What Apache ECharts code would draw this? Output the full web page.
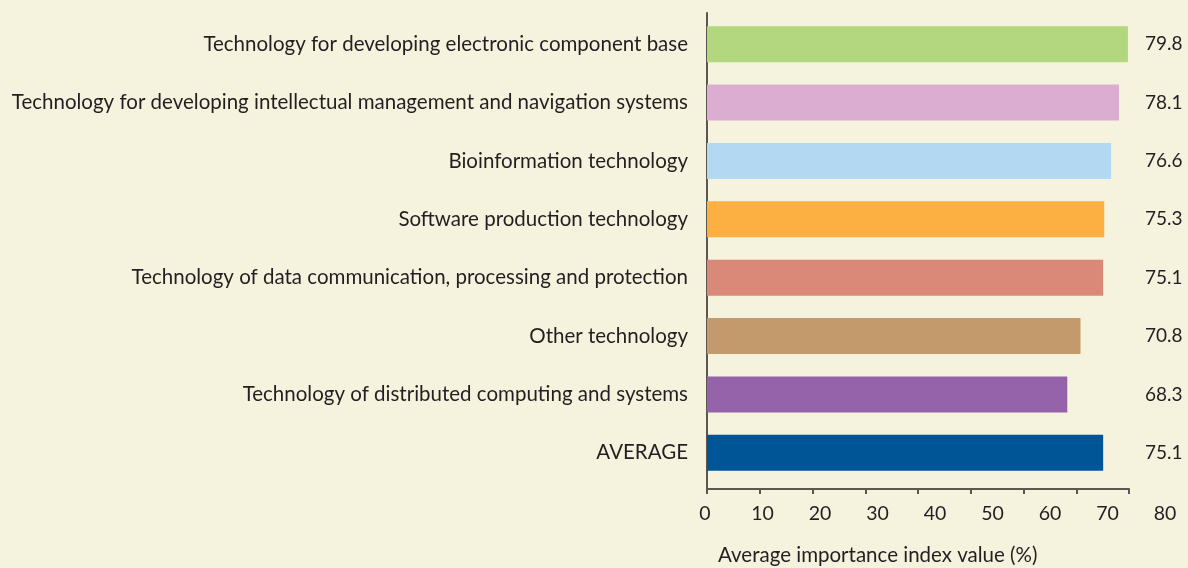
<!DOCTYPE html>
<html>
<head>
<meta charset="utf-8">
<script src="https://cdn.jsdelivr.net/npm/echarts@6/dist/echarts.min.js"></script>
<style>
  html, body { margin: 0; padding: 0; background: #f5f2de; }
  #myChart { width: 1188px; height: 568px; }
</style>
</head>
<body>
<div id="myChart"></div>
<script>
// data, top to bottom as in the picture
var categories = [
  'Technology for developing electronic component base',
  'Technology for developing intellectual management and navigation systems',
  'Bioinformation technology',
  'Software production technology',
  'Technology of data communication, processing and protection',
  'Other technology',
  'Technology of distributed computing and systems',
  'AVERAGE'
];
var values = [79.8, 78.1, 76.6, 75.3, 75.1, 70.8, 68.3, 75.1];
var barColors = ['#b3d77e', '#dbadd1', '#b2d9f1', '#fcb042', '#da8878', '#c39a6b', '#9563a9', '#005596'];
var axisName = 'Average importance index value (%)';

var font = 'Lato';
var textColor = '#231f20';
var lineColor = '#5b5650';

var myChart = echarts.init(document.getElementById('myChart'));
myChart.setOption({
  backgroundColor: '#f5f2de',
  animation: false,
  title: {
    text: axisName,
    left: 713,
    top: 540,
    textStyle: { fontFamily: font, fontSize: 20.5, fontWeight: 'normal', color: textColor }
  },
  grid: [
    // bars
    { left: 707, width: 422, top: 15, height: 467 },
    // axis frame
    { left: 707, width: 422, top: 13, height: 476 },
    // tick labels (spread a bit wider than the ticks, like the original)
    { left: 705, width: 460, top: 13, height: 476 }
  ],
  xAxis: [
    { gridIndex: 0, type: 'value', min: 0, max: 80, show: false },
    {
      gridIndex: 1, type: 'value', min: 0, max: 80, interval: 10,
      axisLine: { show: true, lineStyle: { color: lineColor, width: 2 } },
      axisTick: { show: true, length: 5, lineStyle: { color: lineColor, width: 2 } },
      axisLabel: { show: false },
      splitLine: { show: false }
    },
    {
      gridIndex: 2, type: 'value', min: 0, max: 80, interval: 10,
      axisLine: { show: false },
      axisTick: { show: false },
      axisLabel: { show: true, margin: 15, fontFamily: font, fontSize: 19.5, color: textColor },
      splitLine: { show: false }
    }
  ],
  yAxis: [
    {
      gridIndex: 0, type: 'category', data: categories, inverse: true,
      axisLine: { show: false },
      axisTick: { show: false },
      axisLabel: { margin: 19, fontFamily: font, fontSize: 20.5, color: textColor }
    },
    {
      gridIndex: 0, type: 'category', position: 'right', inverse: true,
      data: values.map(function (v) { return v.toFixed(1); }),
      axisLine: { show: false },
      axisTick: { show: false },
      axisLabel: { margin: 16, fontFamily: font, fontSize: 19, color: textColor }
    },
    {
      gridIndex: 1, type: 'value', min: 0, max: 1,
      axisLine: { show: true, lineStyle: { color: lineColor, width: 2 } },
      axisTick: { show: false },
      axisLabel: { show: false },
      splitLine: { show: false }
    },
    { gridIndex: 2, type: 'value', show: false }
  ],
  series: [
    {
      type: 'bar',
      xAxisIndex: 0,
      yAxisIndex: 0,
      barWidth: 36,
      data: values.map(function (v, i) {
        return { value: v, itemStyle: { color: barColors[i] } };
      })
    }
  ]
});
</script>
</body>
</html>
